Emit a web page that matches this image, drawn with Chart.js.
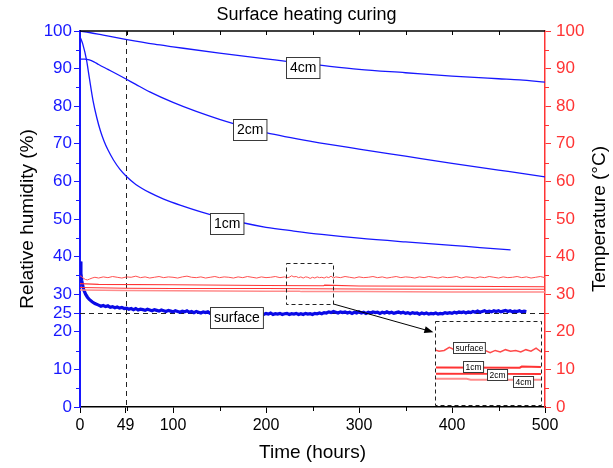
<!DOCTYPE html>
<html>
<head>
<meta charset="utf-8">
<script src="https://cdn.jsdelivr.net/npm/chart.js@4.4.1/dist/chart.umd.min.js"></script>
<style>
  html, body { margin: 0; padding: 0; background: #fff; }
  #wrap { position: relative; width: 613px; height: 468px; }
  #inset { position: absolute; }
</style>
</head>
<body>
<div id="wrap">
  <canvas id="main" width="613" height="468"></canvas>
  <canvas id="inset"></canvas>
</div>
<script>
// ---- data: [hours, value] ----
const rh4cm = [[0,100],[10,99.6],[25,98.9],[49,97.8],[80,96.5],[100,95.8],[150,94.1],[200,92.6],
  [222,91.9],[258,90.9],[300,89.8],[350,88.9],[400,88.0],[450,87.3],[473,87.0],[500,86.4]];

const rh2cm = [[0,92.5],[5,92.5],[10,92.3],[15,91.8],[20,91.1],[30,89.8],[40,88.5],[49,87.3],
  [60,85.8],[75,83.8],[100,81.0],[125,78.6],[150,76.5],[183,74.1],[200,73.0],[250,70.6],
  [300,68.6],[350,66.7],[400,64.8],[450,63.0],[473,62.2],[500,61.2]];

const rh1cm = [[0,98.5],[3,96.5],[7,92.3],[10,87.6],[14,81.5],[18,77.0],[22,73.4],[26,70.6],
  [30,68.4],[36,65.7],[43,63.2],[50,61.3],[60,59.2],[75,57.0],[90,55.3],[110,53.5],[130,51.9],
  [150,50.5],[175,49.0],[200,47.8],[230,46.8],[260,45.9],[300,44.9],[350,43.9],[400,43.0],
  [430,42.4],[463,41.8]];

const rhSurface = [[0,38.7],[1,35.5],[2,33.5],[3,32.2],[4,31.2],[6,30.0],[8,29.2],[10,28.6],
  [13,28.0],[16,27.5],
  [20,27.1],[22.5,26.8],[25,27.0],[27.5,26.7],[30,26.9],[32.5,26.5],[35,26.7],[37.5,26.4],
  [40,26.6],[42.5,26.3],[45,26.5],[47.5,26.2],[50,26.3],[52.5,26.0],[55,26.2],[57.5,25.9],
  [60,26.2],[62.5,25.8],[65,26.0],[67.5,25.9],[70,25.7],[72.5,26.0],[75,25.8],[77.5,25.6],
  [80,25.9],[82.5,25.7],[85,25.5],[87.5,25.8],[90,25.6],[92.5,25.4],[95,25.7],[97.5,25.5],
  [100,25.3],[102.5,25.6],[105,25.4],[107.5,25.2],[110,25.5],[112.5,25.3],[115,25.6],[117.5,25.2],
  [120,25.4],[122.5,25.1],[125,25.4],[127.5,25.2],[130,25.0],[132.5,25.3],[135,25.1],[137.5,25.3],
  [140,24.9],[142.5,25.2],[145,25.0],[147.5,25.2],[150,24.9],[152.5,25.1],[155,24.8],[157.5,25.2],
  [160,24.9],[162.5,25.0],[165,24.7],[167.5,25.0],[170,24.8],[172.5,25.1],[175,24.8],[177.5,24.7],
  [180,25.0],[182.5,24.7],[185,24.9],[187.5,24.6],[190,24.9],[192.5,24.7],[195,24.9],[197.5,24.6],
  [200,24.9],[202.5,24.7],[205,25.0],[207.5,24.6],[210,24.8],[212.5,24.7],[215,24.9],[217.5,24.6],
  [220,24.8],[222.5,24.9],[225,24.6],[227.5,24.8],[230,24.7],[232.5,24.9],[235,24.6],[237.5,24.8],
  [240,24.6],[242.5,24.9],[245,24.7],[247.5,24.8],[250,24.6],[252.5,24.9],[255,24.8],[257.5,25.0],
  [260,24.8],[262.5,25.1],[265,25.0],[267.5,25.3],[270,25.1],[272.5,25.4],[275,25.2],[277.5,25.0],
  [280,25.3],[282.5,25.1],[285,25.3],[287.5,25.0],[290,25.2],[292.5,24.9],[295,25.2],[297.5,25.0],
  [300,25.3],[302.5,25.0],[305,25.2],[307.5,24.9],[310,25.2],[312.5,25.0],[315,25.3],[317.5,25.1],
  [320,25.2],[322.5,24.9],[325,25.2],[327.5,25.0],[330,25.3],[332.5,25.0],[335,25.2],[337.5,24.9],
  [340,25.1],[342.5,25.3],[345,25.0],[347.5,25.2],[350,24.9],[352.5,25.1],[355,24.8],[357.5,25.1],
  [360,24.9],[362.5,25.0],[365,24.7],[367.5,25.0],[370,24.8],[372.5,25.0],[375,24.7],[377.5,24.9],
  [380,24.8],[382.5,25.0],[385,24.7],[387.5,24.9],[390,24.8],[392.5,25.1],[395,24.9],[397.5,25.1],
  [400,24.9],[402.5,25.2],[405,25.0],[407.5,25.3],[410,25.1],[412.5,25.3],[415,25.0],[417.5,25.3],
  [420,25.1],[422.5,25.4],[425,25.2],[427.5,25.5],[430,25.2],[432.5,25.4],[435,25.6],[437.5,25.3],
  [440,25.5],[442.5,25.3],[445,25.6],[447.5,25.4],[450,25.6],[452.5,25.3],[455,25.5],[457.5,25.7],
  [460,25.4],[462.5,25.6],[465,25.3],[467.5,25.5],[470,25.4],[472.5,25.6],[475,25.3],[477.5,25.5],
  [480,25.4]];

const tSurface = [[0,34.9],[2,34.6],[4,34.2],[6,33.9],[8,33.8],[10,34.0],[13,34.3],[16,34.5],
  [20,34.3],[25,34.6],[30,34.4],[35,34.7],[40,34.5],[45,34.3],[50,34.6],[55,34.5],[60,34.8],
  [65,34.4],[70,34.6],[75,34.3],[80,34.5],[85,34.7],[90,34.4],[95,34.6],[100,34.5],[105,34.3],
  [110,34.6],[115,34.8],[120,34.5],[125,34.4],[130,34.6],[135,34.3],[140,34.5],[145,34.7],
  [150,34.4],[155,34.6],[160,34.5],[165,34.3],[170,34.6],[175,34.4],[180,34.7],[185,34.5],
  [190,34.3],[195,34.6],[200,34.4],[205,34.5],[210,34.7],[215,34.4],[220,34.6],
  [222.5,34.4],[225,34.5],[227.5,34.9],[230,34.6],[232.5,34.7],[235,34.4],[237.5,34.6],
  [240,34.3],[242.5,34.6],[245,34.5],[247.5,34.2],[250,34.5],[252.5,34.3],[255,34.6],
  [257.5,34.4],[260,34.5],[262.5,34.3],[265,34.6],[267.5,34.4],[270,34.8],[272.5,34.3],
  [275,34.6],[280,34.4],[285,34.7],[290,34.5],[295,34.3],[300,34.6],[305,34.4],[310,34.5],
  [315,34.7],[320,34.4],[325,34.6],[330,34.3],[335,34.5],[340,34.7],[345,34.4],[350,34.6],
  [355,34.5],[360,34.3],[365,34.6],[370,34.4],[375,34.7],[380,34.5],[385,34.3],[390,34.6],
  [395,34.4],[400,34.5],[405,34.7],[410,34.3],[415,34.6],[420,34.5],[425,34.3],[430,34.6],
  [435,34.4],[440,34.7],[445,34.5],[450,34.3],[455,34.6],[460,34.4],[465,34.5],[470,34.7],
  [475,34.4],[480,34.6],[485,34.3],[490,34.5],[495,34.7],[500,34.4]];

const t1cm = [[0,32.8],[20,32.6],[100,32.5],[200,32.3],[262,32.25],[263,32.4],[300,32.2],[400,32.1],[500,32.0]];
const t2cm = [[0,31.8],[50,31.6],[100,31.5],[200,31.5],[250,31.45],[300,31.4],[400,31.3],[500,31.3]];
const t4cm = [[0,31.1],[50,31.0],[100,30.9],[200,30.8],[236,30.8],[238,30.7],[300,30.7],[400,30.6],[500,30.6]];

// ---- axis ticks ----
const markHour = 49;
const markRH = 25;
const timeTicks = [0, markHour, 100, 200, 300, 400, 500];
const timeMinor = [50, 150, 250, 350, 450];
const rhTicks = [0, 10, 20, markRH, 30, 40, 50, 60, 70, 80, 90, 100];
const rhMinor = [5, 15, 35, 45, 55, 65, 75, 85, 95];
const tempTicks = [0, 10, 20, 30, 40, 50, 60, 70, 80, 90, 100];
const tempMinor = [5, 15, 25, 35, 45, 55, 65, 75, 85, 95];

// ---- curve tags ----
const tags = [
  { text: '4cm', x: 240, y: 90.3 },
  { text: '2cm', x: 183, y: 73.9 },
  { text: '1cm', x: 158, y: 48.9 },
  { text: 'surface', x: 168, y: 23.7 }
];
const insetTags = [
  { text: 'surface', x: 237.3, y: 34.86 },
  { text: '1cm', x: 239.2, y: 32.45 },
  { text: '2cm', x: 251, y: 31.43 },
  { text: '4cm', x: 263.4, y: 30.41 }
];

// zoomed window and where its enlargement sits (in hours / axis units)
const zoomWindow = { x0: 221, x1: 272.4, y0: 27.4, y1: 38.2 };
const insetFrame = { x0: 382, x1: 496, y0: 0.6, y1: 23.0 };
const arrowTip = { x: 380, y: 19.9 };

const FONT = "'Liberation Sans', Arial, Helvetica, sans-serif";
const BLUE = '#1717ff';
const BLUE_DARK = '#0a0ae6';
const RED = '#ff3434';
const RED_LIGHT = '#ff8c8c';

const toXY = arr => arr.map(([x, y]) => ({ x, y }));

function tagBox(ctx, text, cx, cy, size, padX, h) {
  ctx.save();
  ctx.font = size + 'px ' + FONT;
  const w = ctx.measureText(text).width + 2 * padX;
  const l = Math.round(cx - w / 2) + 0.5, t = Math.round(cy - h / 2) + 0.5;
  ctx.fillStyle = '#fff';
  ctx.fillRect(l, t, w, h);
  ctx.strokeStyle = '#3a3a3a';
  ctx.lineWidth = 1;
  ctx.setLineDash([]);
  ctx.strokeRect(l, t, w, h);
  ctx.fillStyle = '#000';
  ctx.textAlign = 'center';
  ctx.textBaseline = 'middle';
  ctx.fillText(text, l + w / 2, t + h / 2 + 0.5);
  ctx.restore();
}

const overlay = {
  id: 'overlay',
  beforeDatasetsDraw(chart) {
    const { ctx, chartArea: a, scales: { x, y } } = chart;
    ctx.save();
    ctx.setLineDash([5, 4]);
    ctx.strokeStyle = '#222';
    ctx.lineWidth = 1;
    const px = Math.round(x.getPixelForValue(markHour)) + 0.5;
    ctx.beginPath(); ctx.moveTo(px, a.top); ctx.lineTo(px, a.bottom); ctx.stroke();
    const py = Math.round(y.getPixelForValue(markRH)) + 0.5;
    ctx.beginPath(); ctx.moveTo(a.left, py); ctx.lineTo(a.right, py); ctx.stroke();
    ctx.restore();
  },
  afterDraw(chart) {
    const { ctx, chartArea: a, scales: { x, y, y1 } } = chart;
    ctx.save();
    ctx.setLineDash([]);
    ctx.lineWidth = 1;
    // minor ticks
    ctx.strokeStyle = BLUE;
    rhMinor.forEach(v => {
      const p = Math.round(y.getPixelForValue(v)) + 0.5;
      ctx.beginPath(); ctx.moveTo(a.left, p); ctx.lineTo(a.left - 4, p); ctx.stroke();
    });
    ctx.strokeStyle = RED;
    tempMinor.forEach(v => {
      const p = Math.round(y1.getPixelForValue(v)) + 0.5;
      ctx.beginPath(); ctx.moveTo(a.right, p); ctx.lineTo(a.right + 4, p); ctx.stroke();
    });
    ctx.strokeStyle = '#000';
    timeMinor.forEach(v => {
      const p = Math.round(x.getPixelForValue(v)) + 0.5;
      ctx.beginPath(); ctx.moveTo(p, a.bottom); ctx.lineTo(p, a.bottom + 4); ctx.stroke();
    });
    // top frame with inward ticks
    ctx.lineWidth = 1.5;
    ctx.beginPath(); ctx.moveTo(a.left, a.top); ctx.lineTo(a.right, a.top); ctx.stroke();
    ctx.lineWidth = 1;
    for (let h = 50; h < 500; h += 50) {
      const p = Math.round(x.getPixelForValue(h)) + 0.5;
      ctx.beginPath(); ctx.moveTo(p, a.top); ctx.lineTo(p, a.top + 4); ctx.stroke();
    }
    // zoom window and inset frame
    ctx.setLineDash([4, 3]);
    ctx.strokeStyle = '#222';
    const rect = f => {
      const l = Math.round(x.getPixelForValue(f.x0)) + 0.5, r = Math.round(x.getPixelForValue(f.x1)) + 0.5;
      const t = Math.round(y.getPixelForValue(f.y1)) + 0.5, b = Math.round(y.getPixelForValue(f.y0)) + 0.5;
      ctx.strokeRect(l, t, r - l, b - t);
    };
    rect(zoomWindow);
    rect(insetFrame);
    // arrow from the window to the inset
    ctx.setLineDash([]);
    const sx = x.getPixelForValue(zoomWindow.x1), sy = y.getPixelForValue(zoomWindow.y0);
    const ex = x.getPixelForValue(arrowTip.x), ey = y.getPixelForValue(arrowTip.y);
    const ang = Math.atan2(ey - sy, ex - sx);
    ctx.strokeStyle = '#000';
    ctx.beginPath(); ctx.moveTo(sx, sy); ctx.lineTo(ex - 7 * Math.cos(ang), ey - 7 * Math.sin(ang)); ctx.stroke();
    ctx.fillStyle = '#000';
    ctx.beginPath();
    ctx.moveTo(ex, ey);
    ctx.lineTo(ex - 9 * Math.cos(ang) + 3.5 * Math.sin(ang), ey - 9 * Math.sin(ang) - 3.5 * Math.cos(ang));
    ctx.lineTo(ex - 9 * Math.cos(ang) - 3.5 * Math.sin(ang), ey - 9 * Math.sin(ang) + 3.5 * Math.cos(ang));
    ctx.closePath(); ctx.fill();
    // right-hand axis title, reading bottom to top
    ctx.fillStyle = '#000';
    ctx.font = '19px ' + FONT;
    ctx.textAlign = 'center';
    ctx.textBaseline = 'middle';
    ctx.translate(chart.width - 13, (a.top + a.bottom) / 2);
    ctx.rotate(-Math.PI / 2);
    ctx.fillText('Temperature (°C)', 0, 0);
    ctx.restore();
    // curve tags
    tags.forEach(t => tagBox(ctx, t.text, x.getPixelForValue(t.x), y.getPixelForValue(t.y), 14, 3.5, 21));
  }
};

const lineDs = (label, data, color, width, axis, smooth) => ({
  label, data: toXY(data), borderColor: color, borderWidth: width, yAxisID: axis,
  pointRadius: 0, fill: false,
  cubicInterpolationMode: smooth ? 'monotone' : 'default', tension: 0
});

const mainChart = new Chart(document.getElementById('main'), {
  type: 'line',
  data: {
    datasets: [
      lineDs('T 4cm', t4cm, RED_LIGHT, 1.4, 'y1'),
      lineDs('T 2cm', t2cm, RED, 1.1, 'y1'),
      lineDs('T 1cm', t1cm, RED, 1.1, 'y1'),
      lineDs('T surface', tSurface, '#ff5050', 1, 'y1'),
      lineDs('RH 4cm', rh4cm, BLUE, 1.3, 'y', true),
      lineDs('RH 2cm', rh2cm, BLUE, 1.3, 'y', true),
      lineDs('RH 1cm', rh1cm, BLUE, 1.3, 'y', true),
      lineDs('RH surface', rhSurface, BLUE_DARK, 3.2, 'y')
    ]
  },
  options: {
    responsive: false,
    animation: false,
    layout: { padding: 0 },
    plugins: {
      legend: { display: false },
      tooltip: { enabled: false },
      title: {
        display: true, text: 'Surface heating curing', color: '#000',
        font: { family: FONT, size: 18, weight: 'normal' },
        padding: { top: 4, bottom: 5.4 }
      }
    },
    scales: {
      x: {
        type: 'linear', position: 'bottom', min: 0, max: 500,
        afterBuildTicks: s => { s.ticks = timeTicks.map(v => ({ value: v })); },
        afterFit: s => { s.height = 61; },
        grid: { drawOnChartArea: false, drawTicks: true, tickLength: 6, color: '#000', lineWidth: 1 },
        border: { color: '#000', width: 1.5 },
        ticks: { color: '#000', font: { family: FONT, size: 16 }, padding: 3, maxRotation: 0, autoSkip: false, callback: v => String(v) },
        title: { display: true, text: 'Time (hours)', color: '#000', font: { family: FONT, size: 19 }, padding: { bottom: 4 } }
      },
      y: {
        type: 'linear', position: 'left', min: 0, max: 100,
        afterBuildTicks: s => { s.ticks = rhTicks.map(v => ({ value: v })); },
        afterFit: s => { s.width = 80; },
        grid: { drawOnChartArea: false, drawTicks: true, tickLength: 6, color: BLUE, lineWidth: 1 },
        border: { color: BLUE, width: 2 },
        ticks: { color: BLUE, font: { family: FONT, size: 17 }, padding: 2, autoSkip: false, callback: v => String(v) },
        title: { display: true, text: 'Relative humidity (%)', color: '#000', font: { family: FONT, size: 19 }, padding: { top: 16 } }
      },
      y1: {
        type: 'linear', position: 'right', min: 0, max: 100,
        afterBuildTicks: s => { s.ticks = tempTicks.map(v => ({ value: v })); },
        afterFit: s => { s.width = 68; },
        grid: { drawOnChartArea: false, drawTicks: true, tickLength: 6, color: RED, lineWidth: 1 },
        border: { color: RED, width: 1.5 },
        ticks: { color: RED, font: { family: FONT, size: 17 }, padding: 5, autoSkip: false, callback: v => String(v) },
        title: { display: false }
      }
    }
  },
  plugins: [overlay]
});

// ---- enlarged view of the temperature window ----
const xs = mainChart.scales.x, ys = mainChart.scales.y;
const iL = Math.round(xs.getPixelForValue(insetFrame.x0)) + 1;
const iR = Math.round(xs.getPixelForValue(insetFrame.x1));
const iT = Math.round(ys.getPixelForValue(insetFrame.y1)) + 1;
const iB = Math.round(ys.getPixelForValue(insetFrame.y0));
const insetCanvas = document.getElementById('inset');
insetCanvas.width = iR - iL;
insetCanvas.height = iB - iT;
insetCanvas.style.left = iL + 'px';
insetCanvas.style.top = iT + 'px';

const insetTagPlugin = {
  id: 'insetTags',
  afterDraw(chart) {
    const { ctx, scales: { x, y } } = chart;
    insetTags.forEach(t => tagBox(ctx, t.text, x.getPixelForValue(t.x), y.getPixelForValue(t.y), 8.5, 2, 11));
  }
};

new Chart(insetCanvas, {
  type: 'line',
  data: {
    datasets: [
      lineDs('T 4cm', t4cm, RED_LIGHT, 2, 'y'),
      lineDs('T 2cm', t2cm, RED, 2, 'y'),
      lineDs('T 1cm', t1cm, RED, 2, 'y'),
      lineDs('T surface', tSurface, '#ff4a4a', 1.5, 'y')
    ]
  },
  options: {
    responsive: false,
    animation: false,
    layout: { padding: 0 },
    plugins: { legend: { display: false }, tooltip: { enabled: false } },
    scales: {
      x: { type: 'linear', display: false, min: zoomWindow.x0, max: zoomWindow.x1 },
      y: { type: 'linear', display: false, min: zoomWindow.y0, max: zoomWindow.y1 }
    }
  },
  plugins: [insetTagPlugin]
});
</script>
</body>
</html>
